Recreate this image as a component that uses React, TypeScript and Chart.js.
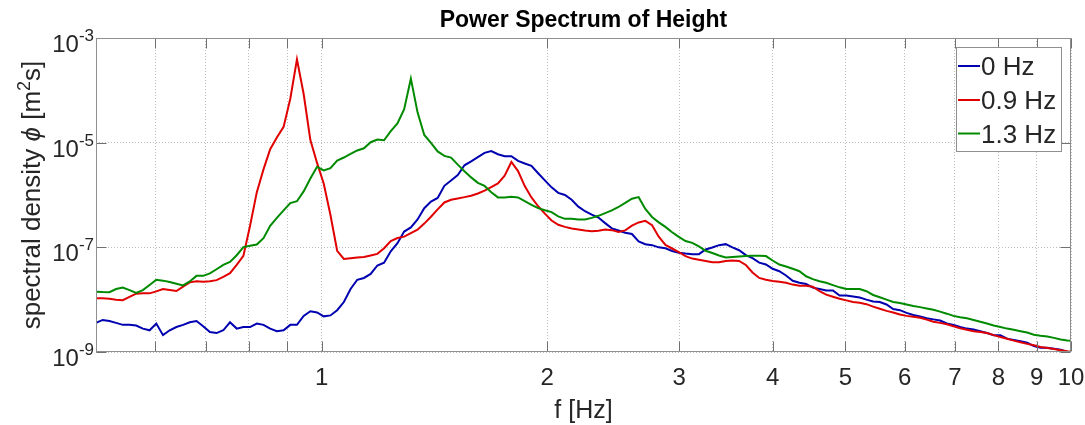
import React, { useEffect, useRef } from 'react';
import { Chart, registerables } from 'chart.js';

Chart.register(...registerables);

// Frequency grid (Hz), log-spaced
const freqs = [
  0.5, 0.5104, 0.521, 0.5318, 0.5429, 0.5542, 0.5657, 0.5775, 0.5895, 0.6018,
  0.6143, 0.6271, 0.6401, 0.6534, 0.667, 0.6809, 0.695, 0.7095, 0.7242, 0.7393,
  0.7547, 0.7704, 0.7864, 0.8027, 0.8194, 0.8365, 0.8539, 0.8716, 0.8898, 0.9083,
  0.9271, 0.9464, 0.9661, 0.9862, 1.0067, 1.0276, 1.049, 1.0708, 1.0931, 1.1158,
  1.139, 1.1627, 1.1869, 1.2116, 1.2368, 1.2625, 1.2888, 1.3156, 1.3429, 1.3709,
  1.3994, 1.4285, 1.4582, 1.4885, 1.5195, 1.5511, 1.5833, 1.6163, 1.6499, 1.6842,
  1.7192, 1.755, 1.7915, 1.8287, 1.8668, 1.9056, 1.9452, 1.9857, 2.027, 2.0691,
  2.1121, 2.1561, 2.2009, 2.2467, 2.2934, 2.3411, 2.3898, 2.4395, 2.4902, 2.542,
  2.5949, 2.6488, 2.7039, 2.7602, 2.8176, 2.8761, 2.936, 2.997, 3.0594, 3.123,
  3.1879, 3.2542, 3.3219, 3.391, 3.4615, 3.5335, 3.607, 3.682, 3.7586, 3.8367,
  3.9165, 3.998, 4.0811, 4.166, 4.2526, 4.3411, 4.4314, 4.5235, 4.6176, 4.7136,
  4.8116, 4.9117, 5.0138, 5.1181, 5.2246, 5.3332, 5.4442, 5.5574, 5.673, 5.7909,
  5.9114, 6.0343, 6.1598, 6.2879, 6.4187, 6.5522, 6.6884, 6.8275, 6.9695, 7.1145,
  7.2624, 7.4134, 7.5676, 7.725, 7.8856, 8.0496, 8.217, 8.3879, 8.5623, 8.7404,
  8.9222, 9.1078, 9.2972, 9.4905, 9.6879, 9.8894, 10.0951,
];

// Spectral density, 0 Hz case
const psd0Hz = [
  3.6e-9, 4.1e-9, 3.9e-9, 3.6e-9, 3.3e-9, 3.3e-9, 3.2e-9, 2.8e-9, 2.6e-9, 3.5e-9,
  2.1e-9, 2.6e-9, 3.0e-9, 3.3e-9, 3.7e-9, 3.9e-9, 3.1e-9, 2.4e-9, 2.3e-9, 2.6e-9,
  3.7e-9, 2.8e-9, 3.0e-9, 3.0e-9, 3.5e-9, 3.3e-9, 2.8e-9, 2.5e-9, 2.6e-9, 3.3e-9,
  3.3e-9, 4.9e-9, 6.0e-9, 5.7e-9, 4.8e-9, 5.0e-9, 6.3e-9, 9.0e-9, 1.6e-8, 2.4e-8,
  2.6e-8, 3.1e-8, 4.5e-8, 5.1e-8, 8.4e-8, 1.2e-7, 2.0e-7, 2.4e-7, 3.4e-7, 5.6e-7,
  7.5e-7, 8.8e-7, 1.5e-6, 1.9e-6, 2.4e-6, 3.7e-6, 4.4e-6, 5.3e-6, 6.4e-6, 6.9e-6,
  6.0e-6, 5.5e-6, 5.5e-6, 4.5e-6, 4.0e-6, 3.6e-6, 2.6e-6, 1.9e-6, 1.4e-6, 1.1e-6,
  1.0e-6, 8.1e-7, 6.0e-7, 4.9e-7, 4.2e-7, 3.7e-7, 2.9e-7, 2.3e-7, 2.1e-7, 1.9e-7,
  1.8e-7, 1.3e-7, 1.15e-7, 1.1e-7, 1.0e-7, 9.6e-8, 8.5e-8, 7.9e-8, 7.6e-8, 7.4e-8,
  7.4e-8, 9.1e-8, 9.9e-8, 1.1e-7, 1.15e-7, 1.0e-7, 8.8e-8, 7.1e-8, 6.2e-8, 5.1e-8,
  4.7e-8, 3.9e-8, 3.5e-8, 2.9e-8, 2.3e-8, 2.1e-8, 2.0e-8, 1.7e-8, 1.6e-8, 1.5e-8,
  1.5e-8, 1.2e-8, 1.2e-8, 1.15e-8, 1.1e-8, 1.0e-8, 9.2e-9, 9.0e-9, 8.1e-9, 6.6e-9,
  6.3e-9, 5.6e-9, 5.1e-9, 4.8e-9, 4.4e-9, 4.2e-9, 4.0e-9, 3.5e-9, 3.3e-9, 3.0e-9,
  2.8e-9, 2.7e-9, 2.5e-9, 2.3e-9, 2.1e-9, 2.1e-9, 1.8e-9, 1.7e-9, 1.6e-9, 1.5e-9,
  1.3e-9, 1.2e-9, 1.2e-9, 1.15e-9, 1.1e-9, 1.0e-9, 9.8e-10,
];

// Spectral density, 0.9 Hz case
const psd09Hz = [
  1.07e-8, 1.06e-8, 1.04e-8, 1.0e-8, 9.8e-9, 1.13e-8, 1.3e-8, 1.32e-8, 1.32e-8, 1.44e-8,
  1.59e-8, 1.53e-8, 1.46e-8, 1.78e-8, 2.14e-8, 2.25e-8, 2.2e-8, 2.25e-8, 2.36e-8, 2.73e-8,
  3.21e-8, 4.61e-8, 6.85e-8, 2.58e-7, 1.12e-6, 3.09e-6, 7.48e-6, 1.26e-5, 2.0e-5, 6.9e-5,
  3.9e-4, 8.5e-5, 1.12e-5, 4.1e-6, 1.64e-6, 4.15e-7, 8.6e-8, 6.0e-8, 6.2e-8, 6.4e-8,
  6.55e-8, 7.0e-8, 7.5e-8, 9.6e-8, 1.32e-7, 1.51e-7, 1.6e-7, 1.86e-7, 2.17e-7, 2.84e-7,
  3.85e-7, 5.3e-7, 7.2e-7, 8.1e-7, 8.6e-7, 9.1e-7, 9.7e-7, 1.07e-6, 1.21e-6, 1.42e-6,
  1.67e-6, 2.35e-6, 4.27e-6, 2.86e-6, 1.48e-6, 9.0e-7, 6.1e-7, 4.4e-7, 3.25e-7, 2.7e-7,
  2.46e-7, 2.29e-7, 2.19e-7, 2.1e-7, 2.03e-7, 2.08e-7, 2.19e-7, 2.13e-7, 1.97e-7, 2.11e-7,
  2.59e-7, 2.99e-7, 3.21e-7, 2.64e-7, 1.6e-7, 1.11e-7, 9.5e-8, 8.1e-8, 6.8e-8, 6.1e-8,
  5.8e-8, 5.5e-8, 5.2e-8, 5.2e-8, 5.5e-8, 5.6e-8, 5.5e-8, 4.6e-8, 3.3e-8, 2.6e-8,
  2.4e-8, 2.27e-8, 2.19e-8, 2.1e-8, 1.94e-8, 1.85e-8, 1.85e-8, 1.77e-8, 1.46e-8, 1.25e-8,
  1.14e-8, 1.04e-8, 9.7e-9, 9.0e-9, 8.7e-9, 8.2e-9, 7.35e-9, 6.7e-9, 6.1e-9, 5.7e-9,
  5.2e-9, 4.9e-9, 4.7e-9, 4.5e-9, 4.15e-9, 3.8e-9, 3.6e-9, 3.4e-9, 3.1e-9, 2.85e-9,
  2.67e-9, 2.5e-9, 2.4e-9, 2.3e-9, 2.1e-9, 1.93e-9, 1.79e-9, 1.65e-9, 1.54e-9, 1.43e-9,
  1.34e-9, 1.25e-9, 1.19e-9, 1.14e-9, 1.08e-9, 1.03e-9, 9.9e-10,
];

// Spectral density, 1.3 Hz case
const psd13Hz = [
  1.42e-8, 1.4e-8, 1.39e-8, 1.6e-8, 1.71e-8, 1.52e-8, 1.35e-8, 1.52e-8, 1.91e-8, 2.4e-8,
  2.31e-8, 2.18e-8, 2.02e-8, 1.87e-8, 2.23e-8, 2.85e-8, 2.85e-8, 3.17e-8, 3.81e-8, 4.61e-8,
  5.26e-8, 7.06e-8, 1.01e-7, 1.07e-7, 1.13e-7, 1.5e-7, 2.58e-7, 3.66e-7, 5.1e-7, 7.0e-7,
  7.6e-7, 1.17e-6, 2.07e-6, 3.45e-6, 2.96e-6, 3.25e-6, 4.55e-6, 5.2e-6, 6.1e-6, 7.1e-6,
  7.8e-6, 1.02e-5, 1.15e-5, 1.11e-5, 1.66e-5, 2.34e-5, 4.35e-5, 1.67e-4, 3.8e-5, 1.4e-5,
  9.9e-6, 6.8e-6, 5.6e-6, 5.2e-6, 3.8e-6, 2.84e-6, 2.17e-6, 1.71e-6, 1.49e-6, 1.13e-6,
  9.0e-7, 9.0e-7, 9.3e-7, 9.0e-7, 7.6e-7, 6.5e-7, 5.6e-7, 5.1e-7, 4.7e-7, 3.9e-7,
  3.5e-7, 3.5e-7, 3.4e-7, 3.4e-7, 3.65e-7, 4.0e-7, 4.5e-7, 5.1e-7, 5.9e-7, 7.1e-7,
  8.5e-7, 9.1e-7, 5.4e-7, 3.8e-7, 3.0e-7, 2.46e-7, 1.94e-7, 1.58e-7, 1.32e-7, 1.22e-7,
  1.04e-7, 8.6e-8, 7.8e-8, 7.0e-8, 6.4e-8, 6.55e-8, 6.7e-8, 6.8e-8, 6.9e-8, 6.9e-8,
  6.8e-8, 5.6e-8, 4.7e-8, 4.3e-8, 3.9e-8, 3.5e-8, 2.8e-8, 2.47e-8, 2.25e-8, 2.1e-8,
  1.9e-8, 1.72e-8, 1.6e-8, 1.6e-8, 1.6e-8, 1.45e-8, 1.23e-8, 1.11e-8, 1.0e-8, 9.0e-9,
  8.6e-9, 8.1e-9, 7.6e-9, 7.2e-9, 6.8e-9, 6.4e-9, 5.9e-9, 5.4e-9, 4.9e-9, 4.6e-9,
  4.4e-9, 4.1e-9, 3.8e-9, 3.5e-9, 3.2e-9, 3.0e-9, 2.8e-9, 2.65e-9, 2.5e-9, 2.35e-9,
  2.14e-9, 2.04e-9, 1.98e-9, 1.86e-9, 1.73e-9, 1.66e-9, 1.61e-9,
];

const seriesLabels = ['0 Hz', '0.9 Hz', '1.3 Hz'];
const seriesColors = ['#0000b0', '#e00000', '#008a00'];

const xGridValues = [0.6, 0.7, 0.8, 0.9, 1, 2, 3, 4, 5, 6, 7, 8, 9, 10];
const xTickValues = [1, 2, 3, 4, 5, 6, 7, 8, 9, 10];
const xTickLabels = ['1', '2', '3', '4', '5', '6', '7', '8', '9', '10'];
const yTickValues = [1e-9, 1e-7, 1e-5, 1e-3];
const yTickExponents = ['-9', '-7', '-5', '-3'];

const titleText = 'Power Spectrum of Height';
const xLabelText = 'f [Hz]';

const FONT = '"Liberation Sans", Arial, Helvetica, sans-serif';
const TEXT_COLOR = '#262626';
const BOX_COLOR = '#8f8f8f';
const TICK_COLOR = '#707070';
const GRID_COLOR = '#bdbdbd';

const decorPlugin = {
  id: 'matlabDecor',
  afterDraw(chart: any) {
    const { ctx, chartArea: a, scales } = chart;
    const xs = scales.x;
    const ys = scales.y;
    const L = Math.round(a.left) + 0.5;
    const R = Math.round(a.right) - 0.5;
    const T = Math.round(a.top) + 0.5;
    const B = Math.round(a.bottom) - 0.5;
    ctx.save();

    // inward tick marks
    ctx.strokeStyle = TICK_COLOR;
    ctx.lineWidth = 1;
    ctx.beginPath();
    xGridValues.forEach((v) => {
      const px = Math.round(xs.getPixelForValue(v)) + 0.5;
      ctx.moveTo(px, B);
      ctx.lineTo(px, B - 10);
      ctx.moveTo(px, T);
      ctx.lineTo(px, T + 10);
    });
    yTickValues.forEach((v) => {
      const py = Math.round(ys.getPixelForValue(v)) + 0.5;
      ctx.moveTo(L, py);
      ctx.lineTo(L + 10, py);
      ctx.moveTo(R, py);
      ctx.lineTo(R - 10, py);
    });
    ctx.stroke();

    // axes box
    ctx.strokeStyle = BOX_COLOR;
    ctx.strokeRect(L, T, R - L, B - T);

    // x tick labels
    ctx.fillStyle = TEXT_COLOR;
    ctx.font = `24px ${FONT}`;
    ctx.textAlign = 'center';
    ctx.textBaseline = 'alphabetic';
    xTickValues.forEach((v, i) => {
      ctx.fillText(xTickLabels[i], xs.getPixelForValue(v), a.bottom + 33);
    });

    // y tick labels 10^n
    ctx.textAlign = 'left';
    yTickValues.forEach((v, i) => {
      const py = ys.getPixelForValue(v);
      ctx.font = `17px ${FONT}`;
      const wExp = ctx.measureText(yTickExponents[i]).width;
      ctx.font = `24px ${FONT}`;
      const wBase = ctx.measureText('10').width;
      const right = a.left - 2;
      ctx.fillText('10', right - wExp - wBase, py + 14);
      ctx.font = `17px ${FONT}`;
      ctx.fillText(yTickExponents[i], right - wExp, py + 3);
    });

    // title
    ctx.font = `bold 23px ${FONT}`;
    ctx.textAlign = 'center';
    ctx.fillStyle = '#000000';
    ctx.fillText(titleText, (a.left + a.right) / 2, 27);

    // x label
    ctx.fillStyle = TEXT_COLOR;
    ctx.font = `25px ${FONT}`;
    ctx.fillText(xLabelText, (a.left + a.right) / 2, 418);

    // y label (rotated, with italic phi and superscript 2)
    const runs = [
      { t: 'spectral density ', f: `26px ${FONT}`, dy: 0 },
      { t: '\u03d5', f: `italic 26px ${FONT}`, dy: 0 },
      { t: ' [m', f: `26px ${FONT}`, dy: 0 },
      { t: '2', f: `18px ${FONT}`, dy: -10 },
      { t: 's]', f: `26px ${FONT}`, dy: 0 },
    ];
    let total = 0;
    runs.forEach((r) => {
      ctx.font = r.f;
      total += ctx.measureText(r.t).width;
    });
    ctx.save();
    ctx.translate(40, (a.top + a.bottom) / 2);
    ctx.rotate(-Math.PI / 2);
    ctx.textAlign = 'left';
    let cx = -total / 2;
    runs.forEach((r) => {
      ctx.font = r.f;
      ctx.fillText(r.t, cx, r.dy);
      cx += ctx.measureText(r.t).width;
    });
    ctx.restore();

    // legend
    const lx = 956.5, ly = 47.5, lw = 105, lh = 104;
    ctx.fillStyle = '#ffffff';
    ctx.fillRect(lx, ly, lw, lh);
    ctx.strokeStyle = BOX_COLOR;
    ctx.lineWidth = 1;
    ctx.strokeRect(lx, ly, lw, lh);
    const rowY = [66, 100, 133.5];
    ctx.font = `26px ${FONT}`;
    ctx.textAlign = 'left';
    seriesLabels.forEach((lab, i) => {
      ctx.strokeStyle = seriesColors[i];
      ctx.lineWidth = 2;
      ctx.beginPath();
      ctx.moveTo(958, rowY[i]);
      ctx.lineTo(980, rowY[i]);
      ctx.stroke();
      ctx.fillStyle = TEXT_COLOR;
      ctx.fillText(lab, 981, rowY[i] + 9);
    });

    ctx.restore();
  },
};

export default function App() {
  const canvasRef = useRef<HTMLCanvasElement | null>(null);

  useEffect(() => {
    const canvas = canvasRef.current;
    if (!canvas) return;
    const series = [psd0Hz, psd09Hz, psd13Hz];
    const chart = new Chart(canvas, {
      type: 'line',
      data: {
        datasets: series.map((vals, k) => ({
          label: seriesLabels[k],
          data: freqs.map((f, i) => ({ x: f, y: vals[i] })),
          borderColor: seriesColors[k],
          backgroundColor: seriesColors[k],
          borderWidth: 2,
          pointRadius: 0,
          tension: 0,
          fill: false,
          order: 2 - k,
        })),
      },
      options: {
        responsive: false,
        animation: false,
        devicePixelRatio: 1,
        layout: { padding: { left: 0, top: 38, right: 14, bottom: 0 } },
        plugins: {
          legend: { display: false },
          title: { display: false },
          tooltip: { enabled: false },
        },
        scales: {
          x: {
            type: 'logarithmic',
            min: 0.5,
            max: 10,
            afterBuildTicks: (s: any) => {
              s.ticks = xGridValues.map((v) => ({ value: v }));
            },
            afterFit: (s: any) => {
              s.height = 73;
            },
            ticks: { display: false },
            grid: { color: GRID_COLOR, lineWidth: 1, drawTicks: false },
            border: { display: false, dash: [1, 2] },
          },
          y: {
            type: 'logarithmic',
            min: 1e-9,
            max: 1e-3,
            afterBuildTicks: (s: any) => {
              s.ticks = yTickValues.map((v) => ({ value: v }));
            },
            afterFit: (s: any) => {
              s.width = 96;
            },
            ticks: { display: false },
            grid: { color: GRID_COLOR, lineWidth: 1, drawTicks: false },
            border: { display: false, dash: [1, 2] },
          },
        },
      },
      plugins: [decorPlugin],
    });
    return () => chart.destroy();
  }, []);

  return (
    <div style={{ position: 'fixed', left: 0, top: 0, width: 1085, height: 425, background: '#ffffff' }}>
      <canvas ref={canvasRef} width={1085} height={425} style={{ width: 1085, height: 425, display: 'block' }} />
    </div>
  );
}
